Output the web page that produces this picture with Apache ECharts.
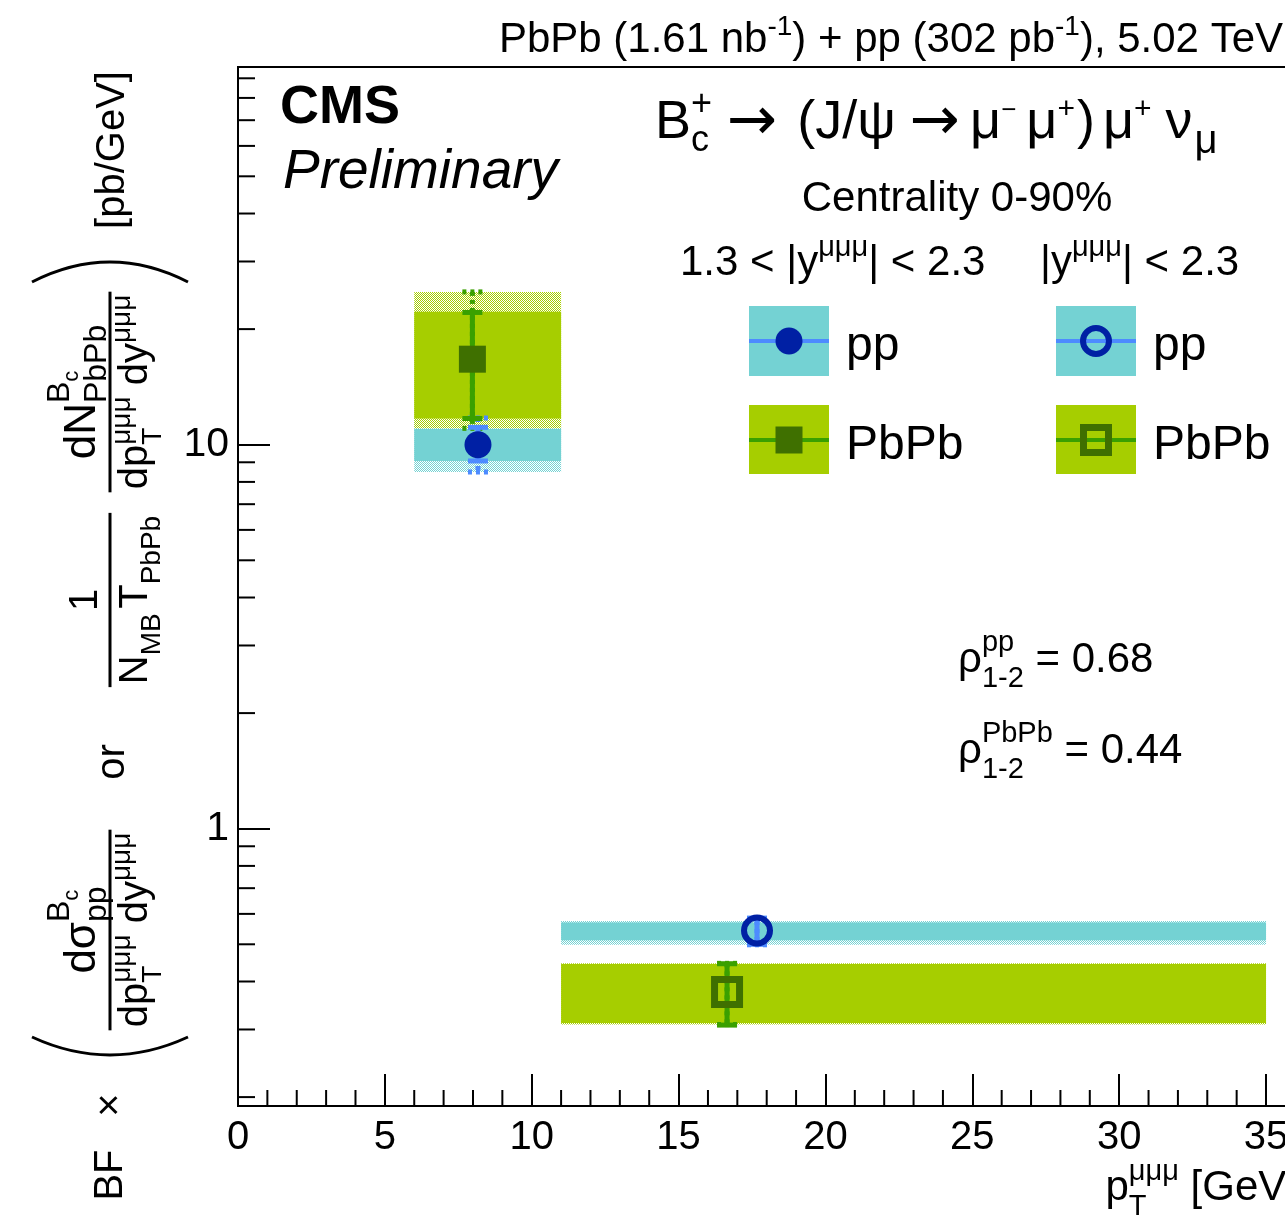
<!DOCTYPE html>
<html><head><meta charset="utf-8">
<script src="https://cdn.jsdelivr.net/npm/echarts@6/dist/echarts.min.js"></script>
<style>html,body{margin:0;padding:0;background:#fff;overflow:hidden}#c{width:1285px;height:1222px}</style>
</head><body><div id="c"></div>
<script>
// ---------------- data ----------------
const binEdges = [[6, 11], [11, 35]];
const ppX      = [8.17, 17.67];
const ppY      = [10.0, 0.543];
const ppStatLo = [9.07, 0.500];
const ppStatHi = [11.1, 0.585];
const ppSystLo = [9.07, 0.512];
const ppSystHi = [10.99, 0.570];
const ppGlobLo = [8.49, 0.4985];
const ppGlobHi = [11.73, 0.575];
const pbX      = [7.98, 16.65];
const pbY      = [16.7, 0.3756];
const pbStatLo = [11.7, 0.308];
const pbStatHi = [22.1, 0.445];
const pbSystLo = [11.7, 0.312];
const pbSystHi = [22.2, 0.444];
const pbGlobLo = [11.03, 0.309];
const pbGlobHi = [25.0, 0.446];
const xTickLabels = [0, 5, 10, 15, 20, 25, 30, 35];
const xMinorTicks = [1,2,3,4,6,7,8,9,11,12,13,14,16,17,18,19,21,22,23,24,26,27,28,29,31,32,33,34];
const yTickLabels = [1, 10];
const yMinorTicks = [0.2,0.3,0.4,0.5,0.6,0.7,0.8,0.9,2,3,4,5,6,7,8,9,20,30,40,50,60,70,80,90];
const yMin = 0.1896, yMax = 96.3, xMin = 0, xMax = 36;

// ---------------- colours ----------------
const C_CYAN = '#74d2d3', C_GREEN = '#a6ce00';
const C_PPBAR = '#4d8bff', C_PBBAR = '#3aa000';
const C_PPMK = '#0020a4', C_PBMK = '#3f7000';

// ---------------- text helpers ----------------
const K = 0.35;
const FAM = "'Liberation Sans', Arial, Helvetica, sans-serif";
const FAM2 = "'DejaVu Sans', 'Liberation Sans', sans-serif";
const mctx = document.createElement('canvas').getContext('2d');
function fontStr(s, st, fam) { return (st ? st + ' ' : '') + s + 'px ' + (fam || FAM); }
function measure(t, s, st, fam) { mctx.font = fontStr(s, st, fam); return mctx.measureText(t).width; }
function mathLine(segs, align, fill) {
  let x = 0, mark = 0, maxX = 0; const items = [];
  segs.forEach(g => {
    if (g.back) x = mark;
    if (g.mark) mark = x;
    x += (g.pre || 0);
    const w = measure(g.t, g.s, g.st, g.f);
    items.push({ g, x });
    x += w;
    if (x > maxX) maxX = x;
    if (g.back) x = maxX;
  });
  const off = align === 'center' ? -maxX / 2 : align === 'right' ? -maxX : 0;
  return { width: maxX, els: items.map(({ g, x }) => ({
    type: 'text', x: x + off, y: (g.dy || 0) - K * g.s, silent: true,
    style: { text: g.t, font: fontStr(g.s, g.st, g.f), fill: fill || '#000', align: 'left', verticalAlign: 'middle' }
  })) };
}
function textGroup(segs, x, y, align, rot) {
  return { type: 'group', x, y, rotation: rot || 0, children: mathLine(segs, align).els };
}
function fraction(numSegs, denSegs, x, y, numV, denV) {
  const n = mathLine(numSegs, 'center'), d = mathLine(denSegs, 'center');
  const L = Math.max(n.width, d.width) + 6;
  return { type: 'group', x, y, rotation: Math.PI / 2, children: [
    { type: 'group', y: numV, children: n.els },
    { type: 'group', y: denV, children: d.els },
    { type: 'line', shape: { x1: -L / 2, y1: 0, x2: L / 2, y2: 0 }, style: { stroke: '#000', lineWidth: 3 } }
  ] };
}
const S = 40, SS = 28, SN = 44, SNS = 32;
const denomSegs = [
  { t: 'dp', s: S }, { t: 'μμμ', s: SS, dy: -18, mark: true }, { t: 'T', s: SS, dy: 13, back: true },
  { t: ' ', s: S }, { t: 'dy', s: S }, { t: 'μμμ', s: SS, dy: -18 }
];

// ---------------- pattern ----------------
function hatch(color) {
  const c = document.createElement('canvas'); c.width = 2; c.height = 2;
  const g = c.getContext('2d'); g.fillStyle = '#fff'; g.fillRect(0, 0, 2, 2);
  g.fillStyle = color; g.fillRect(0, 0, 1, 1); g.fillRect(1, 1, 1, 1);
  return c;
}

// ---------------- series builders ----------------
function boxes(lo, hi) { return binEdges.map((b, i) => [b[0], b[1], lo[i], hi[i]]); }
function bars(xs, lo, hi) { return xs.map((x, i) => [x, lo[i], hi[i]]); }
function boxSeries(data, fill, z) {
  return { type: 'custom', z, silent: true, data, encode: { x: [0, 1], y: [2, 3] },
    renderItem(params, api) {
      const p1 = api.coord([api.value(0), api.value(3)]);
      const p2 = api.coord([api.value(1), api.value(2)]);
      return { type: 'rect', shape: { x: p1[0], y: p1[1], width: p2[0] - p1[0], height: p2[1] - p1[1] }, style: { fill } };
    } };
}
function barSeries(data, color, dash, z) {
  return { type: 'custom', z, silent: true, data, encode: { x: 0, y: [1, 2] },
    renderItem(params, api) {
      const t = api.coord([api.value(0), api.value(2)]);
      const b = api.coord([api.value(0), api.value(1)]);
      const st = { stroke: color, lineWidth: 5, lineDash: dash || null };
      return { type: 'group', children: [
        { type: 'line', shape: { x1: t[0], y1: t[1], x2: b[0], y2: b[1] }, style: st },
        { type: 'line', shape: { x1: t[0] - 10, y1: t[1], x2: t[0] + 10, y2: t[1] }, style: st },
        { type: 'line', shape: { x1: b[0] - 10, y1: b[1], x2: b[0] + 10, y2: b[1] }, style: st }
      ] };
    } };
}

const chart = echarts.init(document.getElementById('c'), null, { renderer: 'canvas' });

const graphics = [
  // header
  textGroup([{ t: 'PbPb (1.61 nb', s: 42 }, { t: '-1', s: 28, dy: -18 }, { t: ') + pp (302 pb', s: 42 }, { t: '-1', s: 28, dy: -18 }, { t: '), 5.02 TeV', s: 42 }], 1283, 55, 'right'),
  textGroup([{ t: 'CMS', s: 54, st: 'bold' }], 280, 127, 'left'),
  textGroup([{ t: 'Preliminary', s: 55, st: 'italic' }], 283, 192, 'left'),
  textGroup([{ t: 'B', s: 54 }, { t: '+', s: 36, dy: -24, mark: true }, { t: 'c', s: 36, dy: 12, back: true },
             { t: '→', s: 60, f: FAM2, pre: 15, dy: 2 }, { t: '(J/ψ', s: 54, pre: 20 }, { t: '→', s: 60, f: FAM2, pre: 14, dy: 2 },
             { t: 'μ', s: 54, pre: 10 }, { t: '−', s: 26, dy: -22 }, { t: 'μ', s: 54, pre: 10 }, { t: '+', s: 30, dy: -22 },
             { t: ')', s: 54, pre: 2 }, { t: 'μ', s: 54, pre: 8 }, { t: '+', s: 30, dy: -22 }, { t: 'ν', s: 54, pre: 14 }, { t: 'μ', s: 40, dy: 14, pre: 2 }], 655, 142, 'left'),
  textGroup([{ t: 'Centrality 0-90%', s: 42 }], 957, 214, 'center'),
  textGroup([{ t: '1.3 < |y', s: 42 }, { t: 'μμμ', s: 29, dy: -20 }, { t: '| < 2.3', s: 42 }], 680, 278, 'left'),
  textGroup([{ t: '|y', s: 42 }, { t: 'μμμ', s: 29, dy: -20 }, { t: '| < 2.3', s: 42 }], 1040, 278, 'left'),
  // rho
  textGroup([{ t: 'ρ', s: 42 }, { t: 'pp', s: 29, dy: -22, mark: true }, { t: '1-2', s: 29, dy: 14, back: true }, { t: ' = 0.68', s: 42 }], 958, 675, 'left'),
  textGroup([{ t: 'ρ', s: 42 }, { t: 'PbPb', s: 29, dy: -22, mark: true }, { t: '1-2', s: 29, dy: 14, back: true }, { t: ' = 0.44', s: 42 }], 958, 766, 'left'),
  // x title
  textGroup([{ t: 'p', s: 42 }, { t: 'μμμ', s: 29, dy: -21, mark: true }, { t: 'T', s: 29, dy: 14, back: true }, { t: ' [GeV]', s: 42 }], 1298, 1203, 'right'),
  // y title
  textGroup([{ t: 'BF', s: S }], 125, 1175, 'center', Math.PI / 2),
  textGroup([{ t: '×', s: S }], 125, 1105, 'center', Math.PI / 2),
  fraction([{ t: 'dσ', s: SN }, { t: 'B', s: SNS, dy: -27, mark: true }, { t: 'c', s: 22, dy: -18 }, { t: 'pp', s: SNS, dy: 10, back: true }],
           denomSegs, 110, 930, -12, 40),
  textGroup([{ t: 'or', s: S }], 127, 762, 'center', Math.PI / 2),
  fraction([{ t: '1', s: S }],
           [{ t: 'N', s: S }, { t: 'MB', s: SS, dy: 12 }, { t: ' ', s: 16 }, { t: 'T', s: S }, { t: 'PbPb', s: SS, dy: 12 }], 110, 600, -10, 40),
  fraction([{ t: 'dN', s: SN }, { t: 'B', s: SNS, dy: -27, mark: true }, { t: 'c', s: 22, dy: -18 }, { t: 'PbPb', s: SNS, dy: 10, back: true }],
           denomSegs, 110, 392, -12, 40),
  textGroup([{ t: '[pb/GeV]', s: S }], 127, 150, 'center', Math.PI / 2),
  { type: 'bezierCurve', shape: { x1: 32, y1: 1037, cpx1: 110, cpy1: 1073, x2: 188, y2: 1037 }, style: { stroke: '#000', lineWidth: 3, fill: null } },
  { type: 'bezierCurve', shape: { x1: 32, y1: 282, cpx1: 110, cpy1: 242, x2: 188, y2: 282 }, style: { stroke: '#000', lineWidth: 3, fill: null } },
  // legend
  { type: 'rect', shape: { x: 749, y: 306, width: 80, height: 70 }, style: { fill: C_CYAN } },
  { type: 'line', shape: { x1: 749, y1: 341, x2: 829, y2: 341 }, style: { stroke: C_PPBAR, lineWidth: 4 } },
  { type: 'circle', shape: { cx: 789, cy: 341, r: 13.5 }, style: { fill: C_PPMK } },
  { type: 'rect', shape: { x: 749, y: 405, width: 80, height: 69 }, style: { fill: C_GREEN } },
  { type: 'line', shape: { x1: 749, y1: 440, x2: 829, y2: 440 }, style: { stroke: C_PBBAR, lineWidth: 4 } },
  { type: 'rect', shape: { x: 775.5, y: 426.5, width: 27, height: 27 }, style: { fill: C_PBMK } },
  { type: 'rect', shape: { x: 1056, y: 306, width: 80, height: 70 }, style: { fill: C_CYAN } },
  { type: 'line', shape: { x1: 1056, y1: 341, x2: 1136, y2: 341 }, style: { stroke: C_PPBAR, lineWidth: 4 } },
  { type: 'circle', shape: { cx: 1096, cy: 341, r: 13 }, style: { fill: null, stroke: C_PPMK, lineWidth: 6 } },
  { type: 'rect', shape: { x: 1056, y: 405, width: 80, height: 69 }, style: { fill: C_GREEN } },
  { type: 'line', shape: { x1: 1056, y1: 440, x2: 1136, y2: 440 }, style: { stroke: C_PBBAR, lineWidth: 4 } },
  { type: 'rect', shape: { x: 1083.5, y: 427.5, width: 25, height: 25 }, style: { fill: null, stroke: C_PBMK, lineWidth: 7 } },
  textGroup([{ t: 'pp', s: 48 }], 846, 364, 'left'),
  textGroup([{ t: 'PbPb', s: 48 }], 846, 463, 'left'),
  textGroup([{ t: 'pp', s: 48 }], 1153, 364, 'left'),
  textGroup([{ t: 'PbPb', s: 48 }], 1153, 463, 'left')
];

const option = {
  animation: false,
  backgroundColor: '#fff',
  grid: { left: 238, top: 67, width: 1057.4, height: 1039, containLabel: false, outerBoundsMode: 'none',
          show: true, borderColor: '#000', borderWidth: 2, backgroundColor: 'transparent' },
  xAxis: {
    type: 'value', min: xMin, max: xMax, interval: 5,
    axisLine: { show: true, lineStyle: { color: '#000', width: 2 } },
    axisTick: { show: true, inside: true, length: 32, lineStyle: { color: '#000', width: 2 } },
    splitLine: { show: false },
    axisLabel: { fontSize: 40, fontFamily: FAM, color: '#000', margin: 12,
      formatter: v => (xTickLabels.indexOf(v) >= 0 ? String(v) : '') }
  },
  yAxis: {
    type: 'log', logBase: 10, min: yMin, max: yMax,
    axisLine: { show: true, lineStyle: { color: '#000', width: 2 } },
    axisTick: { show: true, inside: true, length: 32, lineStyle: { color: '#000', width: 2 } },
    splitLine: { show: false },
    axisLabel: { fontSize: 41, fontFamily: FAM, color: '#000', margin: 9,
      formatter: v => { const m = yTickLabels.find(t => Math.abs(v - t) < 1e-6 * t); return m !== undefined ? String(m) : ''; } }
  },
  series: [
    boxSeries(boxes(ppGlobLo, ppGlobHi), { image: hatch(C_CYAN), repeat: 'repeat' }, 1),
    boxSeries(boxes(ppSystLo, ppSystHi), C_CYAN, 2),
    boxSeries(boxes(pbGlobLo, pbGlobHi), { image: hatch(C_GREEN), repeat: 'repeat' }, 3),
    boxSeries(boxes(pbSystLo, pbSystHi), C_GREEN, 4),
    barSeries(bars(ppX, ppGlobLo, ppGlobHi), C_PPBAR, [4, 4], 5),
    barSeries(bars(pbX, pbGlobLo, pbGlobHi), C_PBBAR, [4, 4], 5),
    barSeries(bars(ppX, ppStatLo, ppStatHi), C_PPBAR, null, 6),
    barSeries(bars(pbX, pbStatLo, pbStatHi), C_PBBAR, null, 6),
    { type: 'scatter', z: 7, silent: true, data: [[ppX[0], ppY[0]]], symbol: 'circle', symbolSize: 27, itemStyle: { color: C_PPMK, opacity: 1 } },
    { type: 'scatter', z: 7, silent: true, data: [[pbX[0], pbY[0]]], symbol: 'rect', symbolSize: 27, itemStyle: { color: C_PBMK, opacity: 1 } },
    { type: 'scatter', z: 7, silent: true, data: [[ppX[1], ppY[1]]], symbol: 'circle', symbolSize: 26, itemStyle: { color: 'rgba(0,0,0,0)', borderColor: C_PPMK, borderWidth: 6, opacity: 1 } },
    { type: 'scatter', z: 7, silent: true, data: [[pbX[1], pbY[1]]], symbol: 'rect', symbolSize: 25, itemStyle: { color: 'rgba(0,0,0,0)', borderColor: C_PBMK, borderWidth: 7, opacity: 1 } },
    { type: 'custom', z: 8, silent: true, data: yMinorTicks.map(v => [xMin, v]), encode: { x: 0, y: 1 },
      renderItem(params, api) { const p = api.coord([api.value(0), api.value(1)]); const x0 = params.coordSys.x;
        return { type: 'line', shape: { x1: x0, y1: p[1], x2: x0 + 17, y2: p[1] }, style: { stroke: '#000', lineWidth: 2 } }; } },
    { type: 'custom', z: 8, silent: true, data: xMinorTicks.map(v => [v, 1]), encode: { x: 0, y: 1 },
      renderItem(params, api) { const p = api.coord([api.value(0), api.value(1)]); const yb = params.coordSys.y + params.coordSys.height;
        return { type: 'line', shape: { x1: p[0], y1: yb, x2: p[0], y2: yb - 16 }, style: { stroke: '#000', lineWidth: 2 } }; } }
  ],
  graphic: { elements: graphics }
};
chart.setOption(option);
</script></body></html>
